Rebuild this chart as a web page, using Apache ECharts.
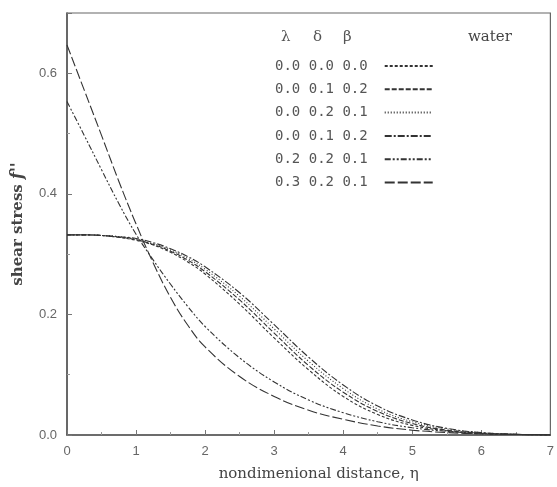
<!DOCTYPE html>
<html>
<head>
<meta charset="utf-8">
<script src="https://cdn.jsdelivr.net/npm/echarts@6/dist/echarts.min.js"></script>
<style>html,body{margin:0;padding:0;background:#fff}#c{width:557px;height:487px}</style>
</head>
<body>
<div id="c"></div>
<script>
// nondimensional distance eta
var eta = [0, 0.25, 0.5, 0.75, 1.0, 1.25, 1.5, 1.75, 2.0, 2.5, 3.0, 3.5, 4.0, 4.5, 5.0, 5.5, 6.0, 6.5, 7.0];
var legendLabels = ['0.0 0.0 0.0', '0.0 0.1 0.2', '0.0 0.2 0.1', '0.0 0.1 0.2', '0.2 0.2 0.1', '0.3 0.2 0.1'];
var seriesIds = ['r1', 'r2', 'r3', 'r4', 'r5', 'r6'];
// shear stress f'' for each parameter set (λ δ β)
var s1 = [0.332, 0.332, 0.331, 0.328, 0.323, 0.315, 0.303, 0.287, 0.267, 0.217, 0.161, 0.108, 0.064, 0.034, 0.016, 0.007, 0.002, 0.001, 0.000];
var s2 = [0.332, 0.332, 0.331, 0.328, 0.324, 0.316, 0.305, 0.290, 0.271, 0.224, 0.169, 0.115, 0.071, 0.039, 0.019, 0.008, 0.003, 0.001, 0.000];
var s3 = [0.332, 0.332, 0.331, 0.329, 0.325, 0.317, 0.307, 0.293, 0.275, 0.230, 0.176, 0.122, 0.077, 0.043, 0.022, 0.010, 0.004, 0.001, 0.000];
var s4 = [0.332, 0.332, 0.331, 0.329, 0.326, 0.319, 0.309, 0.296, 0.279, 0.236, 0.183, 0.129, 0.083, 0.048, 0.025, 0.011, 0.004, 0.001, 0.000];
var s5 = [0.553, 0.497, 0.440, 0.384, 0.333, 0.290, 0.250, 0.213, 0.180, 0.128, 0.088, 0.058, 0.037, 0.022, 0.012, 0.006, 0.003, 0.001, 0.000];
var s6 = [0.647, 0.572, 0.497, 0.421, 0.350, 0.285, 0.228, 0.182, 0.146, 0.097, 0.064, 0.041, 0.026, 0.015, 0.008, 0.004, 0.002, 0.001, 0.000];
var xTicks = ['0', '1', '2', '3', '4', '5', '6', '7'];
var yTicks = ['0.0', '0.2', '0.4', '0.6'];

var allSeries = [s1, s2, s3, s4, s5, s6];
var dashes = [[3, 2], [5, 2], [1, 2], [7, 2, 2, 2], [6, 2, 2, 2, 2, 2], [10, 3]];

function pairs(ys) { return eta.map(function (x, i) { return [x, ys[i]]; }); }

var chart = echarts.init(document.getElementById('c'), null, { renderer: 'canvas' });
chart.setOption({
  animation: false,
  backgroundColor: '#fff',
  grid: { left: 67, top: 13, right: 3, bottom: 52, show: true, borderColor: '#666', borderWidth: 1.2 },
  xAxis: {
    type: 'value', min: 0, max: 7, interval: 1,
    name: 'nondimenional distance, η', nameLocation: 'middle', nameGap: 32,
    nameTextStyle: { fontFamily: 'DejaVu Serif', fontSize: 15, color: '#444', padding: [0, 0, 0, 20] },
    axisLine: { lineStyle: { color: '#555', width: 1.5 } },
    axisTick: { inside: true, length: 5, lineStyle: { color: '#777' } },
    minorTick: { show: true, splitNumber: 2, length: 3, lineStyle: { color: '#999' } },
    splitLine: { show: false },
    axisLabel: { margin: 10, color: '#666', fontFamily: 'Liberation Sans', fontSize: 13,
      formatter: function (v) { return xTicks[Math.round(v)]; } }
  },
  yAxis: {
    type: 'value', min: 0, max: 0.7, interval: 0.2,
    name: '{a|shear stress }{b|f\'\'}', nameLocation: 'middle', nameGap: 41,
    nameTextStyle: { rich: {
      a: { fontFamily: 'DejaVu Serif', fontWeight: 'bold', fontSize: 15, color: '#444' },
      b: { fontFamily: 'DejaVu Serif', fontStyle: 'italic', fontWeight: 'bold', fontSize: 16, color: '#444' } } },
    axisLine: { show: true, lineStyle: { color: '#555', width: 1.5 } },
    axisTick: { show: true, inside: true, length: 5, lineStyle: { color: '#777' } },
    minorTick: { show: true, splitNumber: 2, length: 3, lineStyle: { color: '#999' } },
    splitLine: { show: false },
    axisLabel: { margin: 10, color: '#666', fontFamily: 'Liberation Sans', fontSize: 13,
      formatter: function (v) { var i = Math.round(v / 0.2); return (Math.abs(v - i * 0.2) < 1e-6 && i < yTicks.length) ? yTicks[i] : ''; } }
  },
  legend: {
    orient: 'vertical', left: 270, top: 54, align: 'right',
    itemWidth: 48, itemHeight: 14, itemGap: 9.3,
    itemStyle: { opacity: 0 },
    textStyle: { fontFamily: 'DejaVu Sans Mono', fontSize: 14, color: '#555', lineHeight: 14, padding: [0, 12, 0, 0] },
    formatter: function (name) { return legendLabels[seriesIds.indexOf(name)]; },
    data: seriesIds
  },
  graphic: [
    { type: 'text', left: 281, top: 30, style: { text: 'λ', fill: '#555', font: '15px "DejaVu Serif"' } },
    { type: 'text', left: 313, top: 30, style: { text: 'δ', fill: '#555', font: '15px "DejaVu Serif"' } },
    { type: 'text', left: 343, top: 30, style: { text: 'β', fill: '#555', font: '15px "DejaVu Serif"' } },
    { type: 'text', left: 468, top: 30, style: { text: 'water', fill: '#444', font: '15px "DejaVu Serif"' } }
  ],
  series: allSeries.map(function (ys, k) {
    return {
      name: seriesIds[k], type: 'line', data: pairs(ys), symbol: 'none',
      smooth: 0.4,
      lineStyle: { color: '#333', width: 1.1, type: dashes[k] },
      itemStyle: { color: '#333' }
    };
  })
});
</script>
</body>
</html>
